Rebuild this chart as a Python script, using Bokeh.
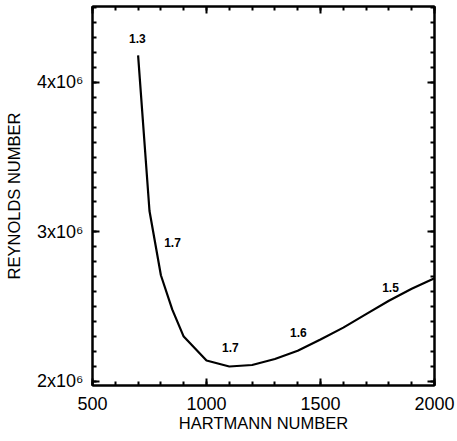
from bokeh.plotting import figure
from bokeh.models import LinearAxis, SingleIntervalTicker, Range1d, ColumnDataSource, CustomJSTickFormatter
from bokeh.core.properties import value
from bokeh.embed import file_html
from bokeh.resources import INLINE

hartmann = [700, 750, 800, 850, 900, 1000, 1100, 1200, 1300, 1400, 1500, 1600, 1700, 1800, 1900, 2000]
reynolds = [4.18e6, 3.14e6, 2.71e6, 2.48e6, 2.30e6, 2.14e6, 2.10e6, 2.11e6, 2.15e6,
            2.205e6, 2.28e6, 2.36e6, 2.45e6, 2.54e6, 2.62e6, 2.69e6]

label_x = [697, 851, 1105, 1403, 1807]
label_y = [4.29e6, 2.93e6, 2.23e6, 2.33e6, 2.63e6]
label_text = ["1.3", "1.7", "1.7", "1.6", "1.5"]

y_tick_labels = {2e6: "2x10⁶", 3e6: "3x10⁶", 4e6: "4x10⁶"}

FONT = "Liberation Sans"

p = figure(width=457, height=441, output_backend="svg", toolbar_location=None,
           x_range=Range1d(500, 2000), y_range=Range1d(1.973e6, 4.507e6),
           min_border_left=92, min_border_right=23, min_border_top=6, min_border_bottom=56,
           x_axis_label="HARTMANN NUMBER", y_axis_label="REYNOLDS NUMBER")
p.grid.visible = False
p.outline_line_color = "black"
p.outline_line_width = 2
p.background_fill_color = "white"
p.border_fill_color = "white"

p.line(hartmann, reynolds, line_color="black", line_width=2.2)

src = ColumnDataSource(dict(x=label_x, y=label_y, t=label_text))
p.text("x", "y", text="t", source=src, text_font=value(FONT), text_font_style="bold",
       text_font_size="12px", text_align="center", text_baseline="middle", text_color="black")

def style(ax, show_labels):
    ax.axis_line_width = 2
    ax.axis_line_color = "black"
    ax.major_tick_in = 7
    ax.major_tick_out = 0
    ax.minor_tick_in = 4
    ax.minor_tick_out = 0
    ax.major_tick_line_width = 2
    ax.minor_tick_line_width = 2
    ax.major_tick_line_color = "black"
    ax.minor_tick_line_color = "black"
    if show_labels:
        ax.major_label_text_font = FONT
        ax.major_label_text_font_size = "18px"
        ax.major_label_text_color = "black"
        ax.axis_label_text_font = FONT
        ax.axis_label_text_font_size = "16.5px"
        ax.axis_label_text_font_style = "normal"
        ax.axis_label_text_color = "black"
    else:
        ax.formatter = CustomJSTickFormatter(code="return ''")
        ax.major_label_standoff = 0

p.xaxis[0].ticker = SingleIntervalTicker(interval=500, num_minor_ticks=5)
p.yaxis[0].ticker = SingleIntervalTicker(interval=1e6, num_minor_ticks=10)
style(p.xaxis[0], True)
style(p.yaxis[0], True)
p.xaxis[0].major_label_standoff = 11
p.xaxis[0].axis_label_standoff = 1
p.yaxis[0].major_label_standoff = 9
p.yaxis[0].axis_label_standoff = 11
p.yaxis[0].major_label_overrides = y_tick_labels

top = LinearAxis(ticker=SingleIntervalTicker(interval=500, num_minor_ticks=5))
right = LinearAxis(ticker=SingleIntervalTicker(interval=1e6, num_minor_ticks=10))
style(top, False)
style(right, False)
p.add_layout(top, "above")
p.add_layout(right, "right")

open("out.html", "w").write(file_html(p, INLINE))
